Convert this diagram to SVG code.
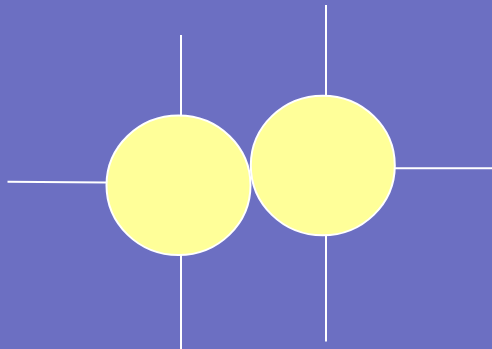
<svg xmlns="http://www.w3.org/2000/svg" width="492" height="349" viewBox="0 0 492 349">
<style>
.c{fill:#ffff99;stroke:#ffffff;stroke-width:2}
.l{stroke:#ffffff;stroke-width:2;fill:none}
</style>
<rect width="492" height="349" fill="#6c6fc2"/>
<g id="connectors">
<line class="l" x1="181" y1="35" x2="181" y2="116"/>
<line class="l" x1="181" y1="255" x2="181" y2="349"/>
<line class="l" x1="7.5" y1="181.7" x2="106" y2="182.5"/>
<line class="l" x1="326" y1="5" x2="326" y2="96"/>
<line class="l" x1="326" y1="235" x2="326" y2="341.5"/>
<line class="l" x1="395" y1="168.3" x2="492" y2="168.3"/>
</g>
<g id="node1"><ellipse class="c" cx="178.5" cy="185.3" rx="72" ry="69.8"/></g>
<g id="node2"><ellipse class="c" cx="322.8" cy="165.5" rx="72" ry="69.8"/></g>
</svg>
